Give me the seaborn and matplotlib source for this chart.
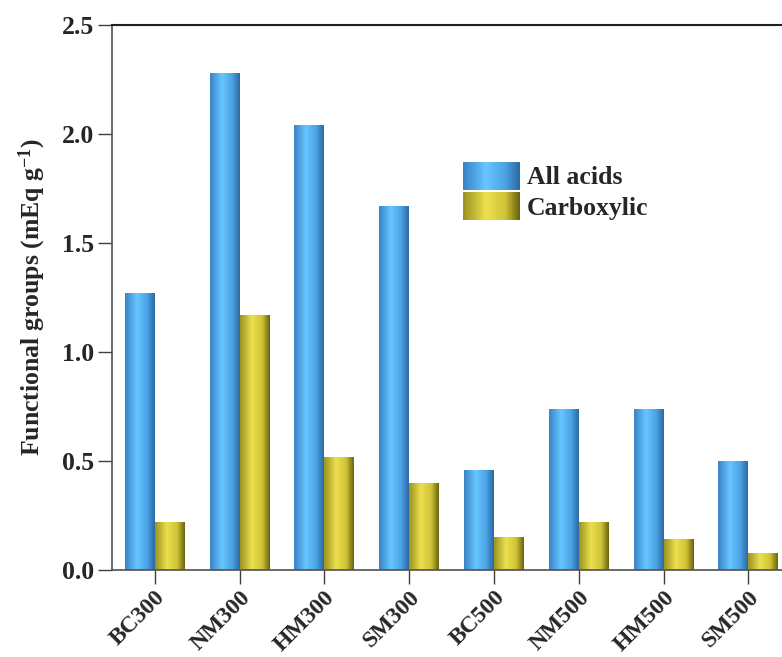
import numpy as np
import pandas as pd
import seaborn as sns
import matplotlib
import matplotlib.pyplot as plt
from matplotlib.colors import LinearSegmentedColormap
from matplotlib.patches import Rectangle
from matplotlib.legend_handler import HandlerBase
matplotlib.use('Agg')

samples = ['BC300', 'NM300', 'HM300', 'SM300', 'BC500', 'NM500', 'HM500', 'SM500']
all_acids = [1.27, 2.28, 2.04, 1.67, 0.46, 0.74, 0.74, 0.50]
carboxylic = [0.22, 1.17, 0.52, 0.40, 0.15, 0.22, 0.14, 0.08]
groups = ['All acids', 'Carboxylic']

df = pd.DataFrame({
    'sample': samples * 2,
    'group': [groups[0]] * len(samples) + [groups[1]] * len(samples),
    'value': all_acids + carboxylic,
})

# cylinder-like shading used for the bars
blue_cmap = LinearSegmentedColormap.from_list(
    'blue_cyl', [(0, '#3a84c6'), (0.4, '#68c6ff'), (0.75, '#4aa2e4'), (1, '#2c6aa2')])
yellow_cmap = LinearSegmentedColormap.from_list(
    'yellow_cyl', [(0, '#9c9422'), (0.4, '#ece04e'), (0.75, '#cfc236'), (1, '#6a6410')])


class GradientHandler(HandlerBase):
    def __init__(self, cmap):
        super().__init__()
        self.cmap = cmap

    def create_artists(self, legend, orig_handle, xdescent, ydescent,
                       width, height, fontsize, trans):
        n = 40
        arts = []
        for i in range(n):
            r = Rectangle((-xdescent + width * i / n, -ydescent), width / n * 1.1, height,
                          facecolor=self.cmap(i / (n - 1)), edgecolor='none', transform=trans)
            arts.append(r)
        return arts


sns.set_style('ticks')
plt.rcParams['font.family'] = ['Liberation Serif', 'DejaVu Serif']
plt.rcParams['font.weight'] = 'bold'
plt.rcParams['mathtext.fontset'] = 'custom'
plt.rcParams['mathtext.rm'] = 'Liberation Serif:bold'
plt.rcParams['mathtext.default'] = 'rm'

fs = 18.5
fig = plt.figure(figsize=(7.82, 6.57), dpi=100)
ax = fig.add_axes([0.1436, 0.1324, 0.8677, 0.8296])

sns.barplot(data=df, x='sample', y='value', hue='group', hue_order=groups,
            palette=['#56b0ee', '#dcd040'], width=0.706, legend=False, ax=ax)

for bar in ax.patches:
    x0, y0 = bar.get_x(), bar.get_y()
    w, h = bar.get_width(), bar.get_height()
    color = bar.get_facecolor()
    cmap = blue_cmap if color[2] > color[1] * 0.9 else yellow_cmap
    grad = np.linspace(0, 1, 64).reshape(1, -1)
    im = ax.imshow(grad, cmap=cmap, aspect='auto', extent=[x0, x0 + w, y0, y0 + h],
                   zorder=bar.get_zorder() + 0.1)
    im.set_clip_path(bar)

ax.set_xlim(-0.5, 7.5)
ax.set_ylim(0, 2.5)
ax.set_yticks([0, 0.5, 1.0, 1.5, 2.0, 2.5])
ax.set_yticklabels(['0.0', '0.5', '1.0', '1.5', '2.0', '2.5'])
ax.set_xlabel('')
ax.set_ylabel('Functional groups (mEq g$^{-1}$)', fontsize=fs, fontweight='bold', labelpad=10)
ax.tick_params(axis='both', direction='out', length=10, width=1, color='#404040',
               labelsize=fs, pad=3)
ax.tick_params(axis='x', labelsize=17, pad=2)
plt.setp(ax.get_xticklabels(), rotation=45, ha='right', va='top',
         rotation_mode='anchor', fontweight='bold')
plt.setp(ax.get_yticklabels(), fontweight='bold')

for side in ['left', 'bottom']:
    ax.spines[side].set_color('#505050')
    ax.spines[side].set_linewidth(1.2)
ax.spines['top'].set_color('#202020')
ax.spines['top'].set_linewidth(1.5)
ax.spines['right'].set_visible(False)

handles = [Rectangle((0, 0), 1, 1), Rectangle((0, 0), 1, 1)]
ax.legend(handles, groups, loc='upper left', bbox_to_anchor=(0.517, 0.749),
          frameon=False, borderpad=0, borderaxespad=0, handlelength=2.22,
          handleheight=1.3, handletextpad=0.27, labelspacing=0.1,
          prop={'family': 'Liberation Serif', 'weight': 'bold', 'size': fs},
          handler_map={handles[0]: GradientHandler(blue_cmap),
                       handles[1]: GradientHandler(yellow_cmap)})

fig.savefig('out.png', dpi=100)
